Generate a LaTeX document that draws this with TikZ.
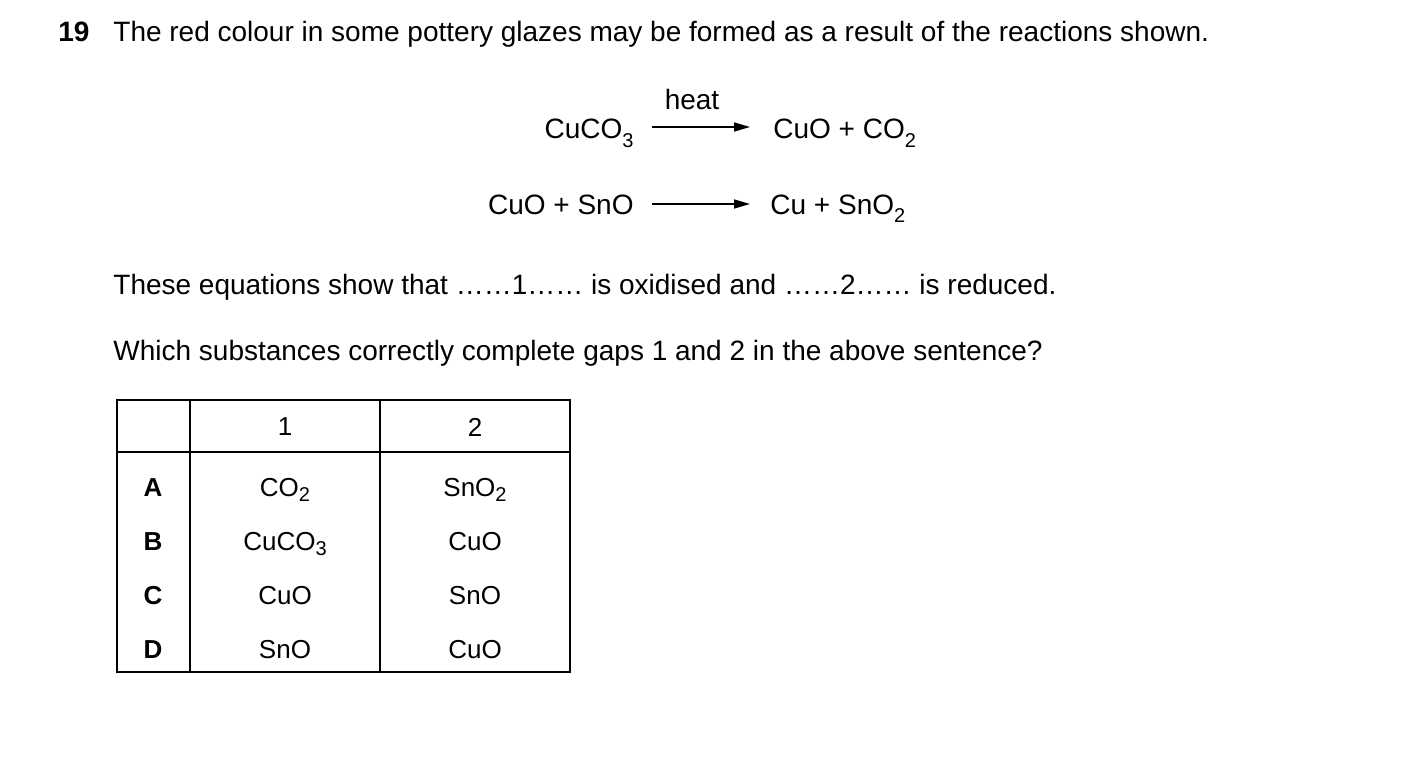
\documentclass[tikz,border=0pt]{standalone}
\usepackage{fontspec}
\setmainfont{Liberation Sans}
\usetikzlibrary{arrows.meta}
\newcommand{\mysub}[1]{\raisebox{-0.55ex}{\fontsize{10}{12}\selectfont #1}}
\newcommand{\tsub}[1]{\raisebox{-0.35ex}{\fontsize{10}{12}\selectfont #1}}
\begin{document}
\begin{tikzpicture}[x=0.5pt,y=-0.5pt,
  txt/.style={inner sep=0pt,font=\fontsize{14}{16}\selectfont},
  cell/.style={inner sep=0pt,font=\fontsize{13}{15}\selectfont},
  arr/.style={-{Triangle[length=8pt,width=4.5pt]},line width=0.8pt}]
\useasboundingbox (0,0) rectangle (1403,765);
\node[txt,anchor=base west] (n19) at (58,42) {\textbf{19}};
\node[txt,anchor=base west] (q) at (113,42) {The red colour in some pottery glazes may be formed as a result of the reactions shown.};
\node[txt,anchor=base east] (r1) at (634,139) {CuCO\mysub{3}};
\node[txt,anchor=base west] (p1) at (773,139) {CuO + CO\mysub{2}};
\coordinate (a1s) at (652,127); \coordinate (a1e) at (750,127);
\draw[arr] (a1s) -- (a1e);
\node[txt] (heat) at (692,99) {heat};
\node[txt,anchor=base east] (r2) at (634,214) {CuO + SnO};
\node[txt,anchor=base west] (p2) at (770,214) {Cu + SnO\mysub{2}};
\coordinate (a2s) at (652,204); \coordinate (a2e) at (750,204);
\draw[arr] (a2s) -- (a2e);
\node[txt,anchor=base west] (s1) at (113,294) {These equations show that ……1…… is oxidised and ……2…… is reduced.};
\node[txt,anchor=base west] (s2) at (113,360) {Which substances correctly complete gaps 1 and 2 in the above sentence?};
\draw[line width=0.8pt] (117,400) rectangle (570,672);
\draw[line width=0.8pt] (190,400) -- (190,672) (380,400) -- (380,672) (117,452) -- (570,452);
\node[cell] (h1) at (285,427) {1};
\node[cell] (h2) at (475,427) {2};
\node[cell] (A) at (153,488) {\textbf{A}};
\node[cell] (B) at (153,542) {\textbf{B}};
\node[cell] (C) at (153,596) {\textbf{C}};
\node[cell] (D) at (153,650) {\textbf{D}};
\node[cell] (a1) at (285,490) {CO\tsub{2}};
\node[cell] (a2) at (475,490) {SnO\tsub{2}};
\node[cell] (b1) at (285,544) {CuCO\tsub{3}};
\node[cell] (b2) at (475,542) {CuO};
\node[cell] (c1) at (285,596) {CuO};
\node[cell] (c2) at (475,596) {SnO};
\node[cell] (d1) at (285,650) {SnO};
\node[cell] (d2) at (475,650) {CuO};
\end{tikzpicture}
\end{document}
